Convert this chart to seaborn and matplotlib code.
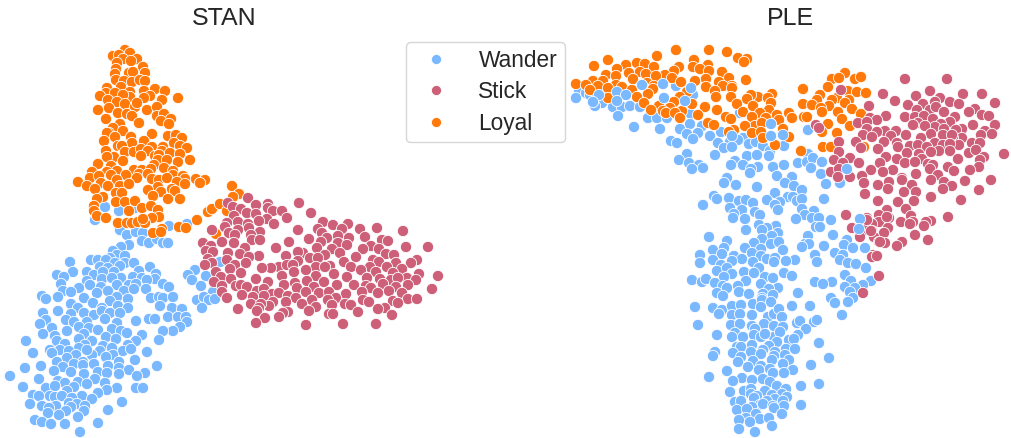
import pandas as pd
import matplotlib.pyplot as plt
import seaborn as sns

# Embedding coordinates
stan_loyal = [(125,50),(113,56),(119,55),(130,53),(137,59),(123,59),(131,61),(117,63),(143,67),(116,69),(145,73),(129,73),(115,74),(133,72),(116,80),(124,81),(132,82),(140,80),(145,81),(121,87),(107,88),(155,89),(165,91),(106,93),(100,96),(115,93),(130,92),(144,91),(178,98),(150,96),(144,98),(130,97),(123,95),(108,100),(117,102),(162,100),(125,104),(135,107),(137,103),(109,108),(98,110),(147,110),(157,107),(118,113),(127,114),(132,116),(157,116),(164,114),(106,119),(171,119),(161,121),(139,123),(169,124),(120,124),(113,128),(123,131),(109,133),(107,133),(152,134),(168,136),(176,135),(182,138),(115,137),(131,137),(104,141),(144,141),(132,143),(174,143),(118,146),(122,146),(152,147),(163,147),(180,146),(187,148),(106,151),(125,152),(134,152),(141,149),(148,151),(162,151),(170,153),(180,154),(114,157),(141,156),(155,156),(159,155),(123,161),(107,157),(158,160),(167,160),(190,160),(178,162),(98,164),(111,166),(154,165),(164,168),(117,171),(134,170),(142,170),(151,169),(92,172),(107,172),(173,171),(111,175),(126,175),(139,174),(148,174),(173,175),(90,178),(99,176),(137,178),(183,176),(185,179),(152,179),(159,180),(167,178),(196,179),(205,180),(200,183),(78,182),(117,180),(101,183),(177,182),(185,184),(87,186),(108,186),(120,186),(129,184),(95,189),(158,187),(172,189),(148,190),(175,191),(116,193),(122,193),(161,192),(153,196),(103,197),(97,199),(168,199),(180,199),(116,202),(125,202),(135,201),(94,206),(142,208),(151,206),(94,211),(129,211),(158,210),(97,216),(106,218),(159,217),(152,218),(118,223),(127,223),(132,223),(138,222),(145,223),(143,219),(162,229),(179,227),(186,228),(197,220),(153,233),(161,232),(208,212),(212,209),(220,204),(232,186),(239,194),(233,197),(227,211),(216,234)]

stan_wander = [(221,262),(105,207),(119,211),(135,208),(95,220),(169,226),(187,224),(120,230),(127,235),(136,232),(143,233),(142,241),(149,243),(157,239),(163,243),(168,243),(129,245),(121,247),(113,251),(117,255),(125,256),(110,258),(91,260),(98,260),(106,260),(125,263),(134,263),(70,262),(115,263),(120,266),(150,267),(100,267),(108,268),(73,272),(87,272),(114,272),(139,271),(57,275),(64,277),(94,275),(103,272),(156,274),(102,279),(121,278),(133,277),(142,278),(87,281),(112,278),(155,279),(147,280),(61,284),(117,285),(129,285),(136,284),(163,284),(90,285),(79,288),(101,287),(169,287),(146,289),(63,291),(71,292),(108,291),(124,291),(134,289),(97,293),(42,296),(46,299),(58,297),(84,298),(117,297),(151,298),(159,297),(163,298),(173,297),(128,299),(110,301),(71,304),(93,303),(160,306),(102,308),(118,306),(78,308),(128,308),(172,308),(182,309),(58,311),(43,313),(71,314),(84,313),(94,315),(102,311),(110,313),(120,313),(168,317),(178,317),(186,317),(46,320),(66,320),(74,322),(87,322),(105,319),(136,321),(149,319),(155,319),(187,322),(40,324),(117,323),(79,327),(89,328),(112,329),(180,327),(52,328),(98,330),(173,331),(163,331),(67,331),(121,331),(127,333),(43,334),(84,334),(55,336),(106,337),(142,335),(116,339),(79,339),(57,341),(136,341),(159,340),(26,341),(92,341),(65,344),(128,345),(103,346),(85,345),(79,348),(112,348),(50,350),(60,350),(69,351),(123,351),(131,349),(147,352),(33,353),(52,353),(100,351),(92,355),(87,350),(113,355),(106,357),(76,355),(67,358),(57,362),(135,360),(83,362),(94,364),(74,364),(119,362),(41,366),(157,366),(25,368),(63,367),(83,365),(108,366),(119,368),(129,370),(54,371),(71,372),(98,372),(107,373),(84,374),(119,374),(145,373),(10,376),(137,376),(39,379),(95,379),(58,381),(78,382),(65,383),(87,384),(105,383),(23,387),(46,388),(55,386),(74,387),(117,388),(107,390),(136,388),(143,388),(67,391),(98,393),(33,395),(39,396),(50,396),(55,397),(62,396),(82,396),(72,398),(92,399),(122,402),(30,404),(42,406),(56,406),(69,403),(77,404),(85,406),(49,408),(71,407),(108,410),(48,413),(66,411),(84,411),(59,415),(78,417),(35,420),(42,422),(51,424),(65,424),(98,423),(80,432),(195,270),(188,275),(192,280),(206,276),(201,286),(220,262),(213,292),(197,300),(204,297),(209,300),(215,299),(202,308)]

stan_stick = [(248,198),(228,203),(256,205),(268,204),(299,203),(233,207),(241,209),(268,208),(273,211),(282,211),(311,213),(247,213),(256,214),(234,216),(287,218),(267,219),(259,221),(238,222),(323,222),(227,223),(274,224),(248,224),(348,224),(333,225),(377,228),(225,227),(318,229),(342,229),(298,230),(360,229),(403,231),(212,230),(238,230),(249,228),(229,233),(260,232),(322,233),(251,235),(235,235),(338,236),(365,237),(349,238),(309,239),(252,240),(260,240),(327,238),(382,240),(388,241),(289,242),(222,242),(203,243),(234,243),(211,246),(338,243),(321,242),(245,248),(371,246),(406,247),(276,248),(428,247),(363,249),(317,248),(332,249),(347,245),(379,249),(206,251),(213,252),(303,253),(298,252),(325,255),(340,253),(386,254),(228,253),(240,254),(259,256),(286,256),(356,257),(394,255),(249,257),(310,258),(208,259),(227,260),(298,261),(318,258),(373,260),(344,262),(379,262),(417,260),(212,263),(396,263),(411,263),(235,265),(205,265),(246,263),(330,266),(279,267),(287,265),(316,267),(325,267),(293,265),(271,268),(262,268),(351,267),(370,267),(387,267),(230,269),(306,270),(361,270),(402,269),(294,272),(334,274),(376,272),(216,272),(241,273),(393,273),(419,274),(438,276),(282,276),(316,276),(347,277),(221,277),(231,279),(256,279),(367,278),(407,278),(380,279),(307,281),(391,280),(416,280),(214,282),(268,282),(324,282),(398,278),(295,283),(354,285),(366,286),(337,285),(284,285),(408,285),(383,284),(236,286),(241,285),(222,286),(297,288),(247,287),(314,287),(396,287),(371,288),(432,289),(257,291),(389,291),(222,292),(264,289),(319,293),(306,292),(329,292),(362,292),(378,293),(402,293),(272,294),(242,295),(279,293),(346,294),(288,296),(264,296),(253,297),(227,298),(296,298),(336,298),(328,300),(312,300),(408,299),(417,299),(393,301),(363,300),(273,302),(251,304),(286,302),(302,304),(369,302),(345,304),(398,303),(332,305),(351,305),(316,307),(269,306),(261,304),(238,309),(259,308),(385,308),(309,311),(378,309),(257,311),(288,312),(283,313),(358,312),(329,314),(333,314),(392,315),(265,318),(279,317),(256,323),(306,325),(343,324),(376,324)]

ple_loyal = [(676,50),(709,50),(727,52),(657,56),(738,58),(747,59),(608,60),(694,60),(744,62),(594,66),(626,65),(637,63),(645,64),(654,67),(708,65),(693,67),(679,67),(617,69),(700,69),(709,71),(674,71),(640,72),(722,72),(629,73),(646,74),(606,75),(665,75),(656,76),(616,76),(746,80),(633,79),(729,78),(672,78),(706,79),(695,81),(681,82),(593,81),(603,81),(719,82),(647,83),(576,84),(586,85),(598,86),(616,85),(654,86),(732,86),(622,87),(723,86),(706,87),(608,88),(590,90),(632,90),(653,89),(715,91),(732,88),(648,94),(687,92),(731,97),(772,94),(758,97),(637,97),(680,97),(608,98),(716,97),(751,95),(768,98),(747,99),(674,102),(644,103),(692,104),(737,104),(753,106),(771,103),(659,106),(705,107),(717,110),(651,110),(670,108),(769,110),(743,112),(663,111),(682,111),(666,113),(675,113),(760,113),(789,113),(777,115),(698,115),(680,118),(726,117),(752,117),(731,119),(766,118),(779,120),(792,118),(708,123),(714,125),(755,126),(745,126),(762,123),(783,129),(734,130),(729,132),(752,133),(761,132),(789,137),(763,138),(775,145),(845,73),(832,79),(839,78),(855,79),(861,77),(803,89),(828,87),(848,91),(857,92),(866,93),(820,95),(817,100),(837,98),(849,100),(845,103),(832,100),(803,104),(812,105),(829,106),(821,108),(852,109),(838,112),(822,112),(861,114),(804,117),(807,117),(842,119),(828,124),(850,126),(822,132),(837,133),(823,147),(831,147),(801,151),(864,147)]

ple_wander = [(579,90),(576,98),(586,93),(590,95),(599,95),(605,97),(593,102),(602,103),(595,106),(642,85),(663,84),(676,86),(691,88),(617,92),(626,95),(693,95),(664,98),(617,101),(685,101),(613,107),(622,107),(630,106),(640,107),(618,116),(691,114),(740,113),(648,118),(657,118),(667,118),(690,124),(702,126),(634,127),(660,129),(680,129),(771,124),(687,134),(698,133),(721,132),(710,136),(732,136),(693,139),(743,138),(771,136),(783,135),(808,130),(671,141),(677,143),(718,143),(730,142),(738,140),(749,144),(756,142),(724,148),(732,147),(763,146),(784,146),(770,151),(687,154),(715,155),(747,156),(757,155),(769,156),(808,154),(679,160),(689,163),(735,161),(798,163),(807,162),(813,158),(822,162),(699,165),(703,168),(692,169),(731,165),(743,165),(758,167),(773,167),(784,165),(751,169),(811,168),(750,173),(821,174),(777,176),(792,177),(727,178),(724,183),(785,183),(736,185),(757,187),(794,186),(826,184),(802,190),(775,193),(714,196),(847,169),(840,183),(729,198),(717,199),(739,201),(746,200),(767,200),(788,197),(793,197),(797,201),(802,199),(824,199),(753,203),(703,205),(780,202),(775,205),(730,208),(742,210),(802,209),(778,210),(814,211),(755,212),(734,214),(760,215),(805,215),(733,218),(745,219),(796,219),(812,218),(819,218),(831,220),(860,219),(759,225),(776,226),(767,228),(816,227),(820,227),(746,230),(762,230),(859,229),(778,233),(772,236),(833,235),(808,236),(709,237),(762,239),(727,241),(754,243),(847,240),(771,244),(779,242),(805,244),(809,244),(824,246),(844,245),(802,247),(745,248),(724,248),(713,250),(761,249),(783,250),(853,248),(865,248),(752,253),(835,253),(722,254),(700,255),(843,255),(815,255),(734,256),(761,256),(767,259),(742,259),(775,258),(795,260),(713,260),(732,261),(786,261),(753,262),(840,260),(817,262),(774,262),(700,263),(848,263),(856,264),(721,265),(717,271),(759,268),(727,268),(744,272),(866,268),(732,274),(754,273),(784,273),(845,275),(765,277),(724,277),(773,278),(792,276),(746,281),(692,280),(702,282),(706,279),(715,283),(815,282),(832,282),(823,284),(851,281),(871,281),(723,286),(738,286),(761,284),(727,288),(845,287),(778,288),(863,285),(769,289),(855,288),(717,293),(739,292),(749,294),(798,293),(763,294),(850,292),(773,295),(723,296),(762,298),(831,298),(853,298),(695,307),(713,308),(722,310),(719,314),(732,306),(741,305),(753,304),(762,300),(771,302),(792,306),(810,306),(842,315),(835,303),(848,302),(732,315),(752,315),(761,307),(768,317),(774,314),(779,309),(782,317),(740,314),(698,325),(731,325),(740,324),(752,326),(764,324),(774,326),(783,327),(797,323),(800,321),(814,322),(817,320),(806,329),(755,329),(735,333),(717,335),(732,337),(743,337),(754,335),(761,337),(774,337),(765,334),(798,335),(789,340),(794,339),(780,332),(777,342),(819,343),(752,345),(769,346),(737,347),(741,347),(786,349),(795,349),(763,350),(775,352),(715,352),(751,352),(733,353),(785,355),(713,356),(774,356),(761,354),(741,357),(829,358),(753,361),(738,362),(789,360),(772,360),(783,364),(811,365),(748,367),(761,366),(770,369),(793,370),(759,370),(727,371),(773,373),(784,373),(709,377),(742,378),(763,379),(733,381),(752,380),(770,382),(801,386),(819,384),(777,386),(786,389),(730,392),(744,391),(765,391),(751,389),(782,394),(751,394),(772,395),(757,396),(754,398),(787,397),(775,399),(767,401),(783,401),(735,402),(741,401),(760,405),(763,404),(773,406),(801,405),(784,406),(752,407),(737,410),(747,409),(774,408),(782,414),(756,414),(746,418),(760,419),(769,418),(739,420),(750,422),(772,426),(739,429),(755,432)]

ple_stick = [(905,79),(947,79),(841,90),(930,91),(963,94),(982,94),(883,94),(916,96),(940,98),(895,101),(935,102),(950,102),(959,104),(995,103),(869,106),(908,105),(923,104),(917,110),(930,110),(936,107),(975,109),(969,112),(944,112),(886,116),(905,117),(915,117),(924,116),(982,115),(989,116),(955,117),(933,119),(870,118),(877,120),(950,122),(858,123),(918,123),(913,125),(941,124),(867,122),(973,125),(995,125),(816,125),(935,127),(925,126),(962,129),(819,128),(867,129),(885,131),(896,131),(956,130),(985,131),(944,129),(877,132),(906,135),(863,135),(931,134),(992,134),(943,135),(891,136),(872,137),(981,135),(921,138),(962,138),(953,138),(952,135),(884,142),(839,142),(856,142),(897,143),(935,143),(972,143),(980,143),(959,145),(861,148),(910,146),(918,145),(927,147),(943,145),(950,144),(898,147),(878,149),(839,152),(939,151),(950,151),(969,153),(976,150),(907,153),(1004,154),(919,154),(931,152),(850,158),(886,157),(897,159),(922,159),(958,159),(984,157),(834,160),(905,163),(915,162),(980,160),(880,163),(859,163),(843,163),(928,164),(933,165),(948,167),(979,167),(893,170),(871,170),(883,172),(930,169),(954,171),(970,170),(831,172),(839,169),(916,174),(938,175),(862,176),(850,177),(838,177),(902,178),(991,180),(965,181),(931,180),(889,182),(864,183),(878,185),(902,180),(944,182),(912,185),(952,186),(943,189),(888,189),(979,190),(916,192),(904,192),(865,194),(931,197),(878,201),(914,201),(898,202),(961,200),(887,210),(906,209),(846,215),(879,215),(948,217),(911,216),(889,218),(931,221),(867,218),(901,222),(879,222),(926,222),(913,222),(872,224),(910,224),(924,226),(852,228),(888,228),(872,231),(866,230),(884,233),(915,235),(860,237),(874,237),(928,240),(879,242),(902,242),(897,246),(885,243),(873,255),(867,220),(871,231),(887,217),(872,257),(879,276),(863,293),(877,256),(880,242)]

# wander points that sit over the other groups in the PLE panel
ple_wander_top = [(642,85),(663,84),(691,88),(617,92),(626,95),(599,95),(593,102),(617,101),(664,98),(685,101),(771,124),(732,136),(771,136),(783,135),(860,219),(859,229),(865,248),(847,169)]

groups = ["Wander", "Stick", "Loyal"]
palette = {"Wander": "#7ab8ff", "Stick": "#cd6078", "Loyal": "#ff7a0a"}


def make_frame(wander, loyal, stick, top=()):
    rows = []
    for name, pts in [("Wander", wander), ("Loyal", loyal), ("Stick", stick)]:
        part = pd.DataFrame(pts, columns=["x", "y"])
        part["group"] = name
        part["top"] = [name == "Wander" and p in top for p in pts]
        rows.append(part)
    df = pd.concat(rows, ignore_index=True)
    return df.sort_values("top", kind="stable")


stan_df = make_frame(stan_wander, stan_loyal, stan_stick)
ple_df = make_frame(ple_wander, ple_loyal, ple_stick, ple_wander_top)

sns.set_theme(style="white")
plt.rcParams["font.family"] = ["Liberation Sans", "DejaVu Sans"]
plt.rcParams["text.hinting"] = "no_autohint"

fig = plt.figure(figsize=(10.12, 4.38), dpi=100)
W, H = 1012, 438

ax1 = fig.add_axes([0, 0, 448 / W, 403 / H])
ax2 = fig.add_axes([570 / W, 0, 442 / W, 403 / H])

sns.scatterplot(data=stan_df, x="x", y="y", hue="group", hue_order=groups,
                palette=palette, s=66, linewidth=0.6, edgecolor="white", ax=ax1)
sns.scatterplot(data=ple_df, x="x", y="y", hue="group", hue_order=groups,
                palette=palette, s=66, linewidth=0.6, edgecolor="white",
                legend=False, ax=ax2)

ax1.set_xlim(0, 448)
ax2.set_xlim(570, 1012)

for ax, name in [(ax1, "STAN"), (ax2, "PLE")]:
    ax.set_ylim(438, 35)
    ax.set_title(name, fontsize=18, pad=7)
    ax.axis("off")

handles, labels = ax1.get_legend_handles_labels()
ax1.get_legend().remove()
fig.legend(handles, labels, loc="upper left",
           bbox_to_anchor=(406 / W, 1 - 42 / H), bbox_transform=fig.transFigure,
           fontsize=16.4, markerscale=0.9, labelspacing=0.42, handletextpad=0.85,
           borderaxespad=0, borderpad=0.33, frameon=True)

fig.savefig("out.png", dpi=100)
